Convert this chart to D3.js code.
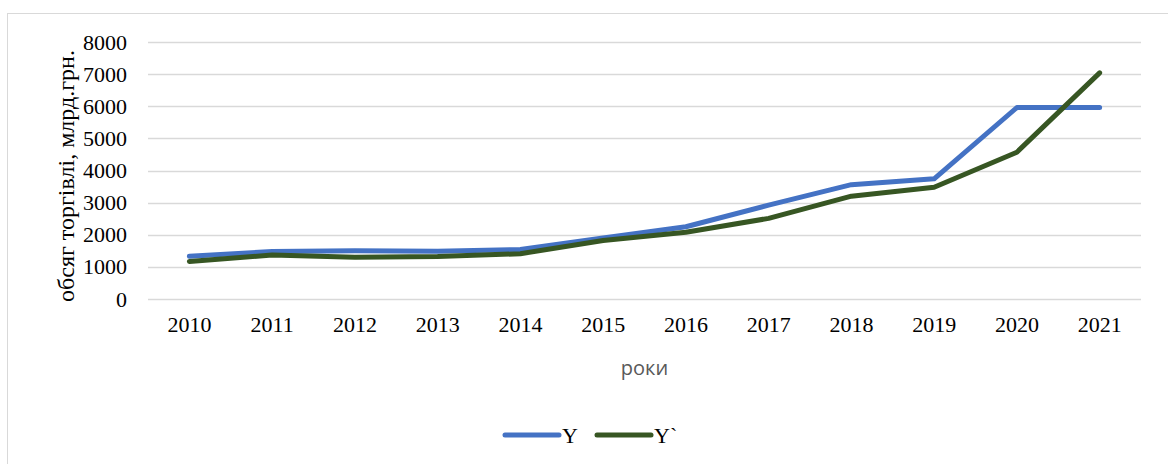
<!DOCTYPE html>
<html>
<head>
<meta charset="utf-8">
<script src="https://cdn.jsdelivr.net/npm/d3@7"></script>
<style>
  body { margin: 0; background: #fff; }
  svg { display: block; }
</style>
</head>
<body>
<svg id="chart" width="1168" height="464"></svg>
<script>
var years = ["2010", "2011", "2012", "2013", "2014", "2015", "2016", "2017", "2018", "2019", "2020", "2021"];
var yActual = [1330, 1480, 1500, 1490, 1540, 1900, 2250, 2920, 3560, 3740, 5960, 5960];
var yModel = [1170, 1370, 1300, 1320, 1410, 1820, 2080, 2510, 3200, 3480, 4570, 7040];
var yTicks = [0, 1000, 2000, 3000, 4000, 5000, 6000, 7000, 8000];
var seriesNames = ["Y", "Y`"];

var svg = d3.select("#chart"),
  margin = { top: 42, right: 27, bottom: 165, left: 148 },
  width = +svg.attr("width"),
  height = +svg.attr("height"),
  innerW = width - margin.left - margin.right,
  innerH = height - margin.top - margin.bottom;

var colors = ["#4472C4", "#375623"];
var serif = "'Liberation Serif', 'Times New Roman', serif";

// chart area border
svg.append("rect")
  .attr("x", 7.5).attr("y", 13.5)
  .attr("width", 1180).attr("height", 470)
  .attr("fill", "#fff")
  .attr("stroke", "#d9d9d9");

var x = d3.scaleBand()
  .domain(years)
  .range([0, innerW]);

var y = d3.scaleLinear()
  .domain([0, 8000])
  .range([innerH, 0]);

var g = svg.append("g")
  .attr("transform", "translate(" + margin.left + "," + margin.top + ")");

// gridlines
g.append("g")
  .selectAll("line").data(yTicks)
  .enter().append("line")
  .attr("x1", 0).attr("x2", innerW)
  .attr("y1", function (d) { return Math.round(y(d)) + 0.5; })
  .attr("y2", function (d) { return Math.round(y(d)) + 0.5; })
  .attr("stroke", "#d9d9d9")
  .attr("stroke-width", 1.5);

// y axis labels
var yAxis = g.append("g")
  .call(d3.axisLeft(y).tickValues(yTicks).tickFormat(d3.format("d")).tickSize(0).tickPadding(21));
yAxis.select(".domain").remove();
yAxis.selectAll("text")
  .attr("font-family", serif)
  .attr("font-size", 22)
  .attr("fill", "#000");

// x axis labels
var xAxis = g.append("g")
  .attr("transform", "translate(0," + innerH + ")")
  .call(d3.axisBottom(x).tickSize(0).tickPadding(17));
xAxis.select(".domain").remove();
xAxis.selectAll("text")
  .attr("font-family", serif)
  .attr("font-size", 22)
  .attr("fill", "#000");

// lines
var line = d3.line()
  .x(function (d, i) { return x(years[i]) + x.bandwidth() / 2; })
  .y(function (d) { return y(d); });

[yActual, yModel].forEach(function (s, i) {
  g.append("path")
    .datum(s)
    .attr("fill", "none")
    .attr("stroke", colors[i])
    .attr("stroke-width", 5)
    .attr("stroke-linejoin", "round")
    .attr("stroke-linecap", "round")
    .attr("d", line);
});

// axis titles
svg.append("text")
  .attr("text-anchor", "middle")
  .attr("transform", "translate(74,176)rotate(-90)")
  .attr("font-family", serif)
  .attr("font-size", 24)
  .attr("fill", "#000")
  .text("обсяг торгівлі, млрд.грн.");

svg.append("text")
  .attr("text-anchor", "middle")
  .attr("x", margin.left + innerW / 2)
  .attr("y", 375)
  .attr("font-family", "'Open Sans', 'Noto Sans', sans-serif")
  .attr("font-size", 20)
  .attr("fill", "#595959")
  .text("роки");

// legend
var legend = svg.append("g")
  .attr("transform", "translate(505,435)");
var lx = [0, 92];
seriesNames.forEach(function (name, i) {
  legend.append("line")
    .attr("x1", lx[i]).attr("x2", lx[i] + 54)
    .attr("y1", 0).attr("y2", 0)
    .attr("stroke", colors[i])
    .attr("stroke-width", 5)
    .attr("stroke-linecap", "round");
  legend.append("text")
    .attr("x", lx[i] + 57)
    .attr("y", 8)
    .attr("font-family", serif)
    .attr("font-size", 22)
    .attr("fill", "#000")
    .text(name);
});
</script>
</body>
</html>
